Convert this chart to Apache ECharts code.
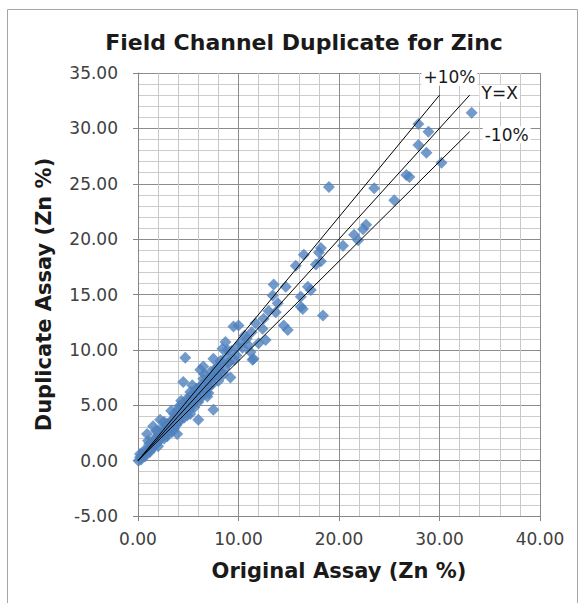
<!DOCTYPE html>
<html><head><meta charset="utf-8">
<script src="https://cdn.jsdelivr.net/npm/echarts@6/dist/echarts.min.js"></script>
<style>html,body{margin:0;padding:0;background:#fff}#c{width:585px;height:603px}</style>
</head><body><div id="c"></div>
<script>
// Scatter data: original assay (x) and duplicate assay (y), Zn %
const originalAssay = [
 33.2,27.9,28.9,27.9,28.7,30.2,26.7,27.0,19.0,23.5,25.5,22.7,22.4,21.5,21.9,20.4,18.2,18.0,16.5,18.2,17.7,15.7,16.9,17.2,16.2,16.4,18.4,16.2,
 13.5,14.7,13.4,13.9,13.7,14.9,14.5,10.0,9.5,11.7,12.4,12.7,12.0,11.5,11.2,8.7,8.4,8.9,7.5,6.5,9.2,10.2,11.4,12.5,13.0,10.8,9.8,9.0,8.0,8.5,
 4.7,7.5,6.0,4.5,5.4,6.2,6.5,5.9,6.9,7.0,7.6,5.0,4.0,4.5,3.5,3.2,3.9,2.2,1.5,0.9,2.2,1.5,0.2,0.05,0.5,1.0,1.8,2.5,2.8,3.0,3.6,4.2,4.8,5.5,5.2,6.3,6.8,7.2,8.0,2.6,1.2,0.7,3.3,4.3,2.0,5.8,6.6,7.8,8.2,4.6,5.6,3.8,2.9,1.7,0.3,
 0.4,0.6,0.8,1.1,1.3,1.6,1.9,2.1,2.3,2.4,2.7,2.9,3.1,3.3,3.4,3.7,3.8,4.0,4.1,4.3,4.4,4.7,4.9,5.1,5.3,5.4,5.7,5.8,6.0,6.1,
 6.4,6.7,6.9,7.1,7.3,7.4,7.7,7.9,8.1,8.3,8.6,8.8,9.1,9.3,9.6,9.9,10.4,10.6,11.0,11.3,1.0,1.8,2.6,0.2,3.6,4.9,6.2,7.0,2.0,5.2
];
const duplicateAssay = [
 31.4,30.4,29.7,28.5,27.8,26.9,25.8,25.6,24.7,24.6,23.5,21.3,20.9,20.4,19.9,19.4,19.2,18.8,18.6,18.0,17.7,17.6,15.7,15.4,14.8,13.7,13.1,13.9,
 15.9,15.7,14.9,14.2,13.4,11.8,12.2,12.2,12.1,12.4,11.9,10.9,10.6,9.2,9.8,10.7,10.1,10.0,9.2,8.5,7.5,10.6,9.1,12.8,13.5,11.0,9.5,8.8,8.5,7.8,
 9.3,4.6,3.7,7.1,6.8,8.2,7.4,5.8,5.8,7.0,7.6,5.5,4.6,4.3,3.7,2.8,2.4,3.7,3.1,2.4,1.9,1.2,0.3,0.0,0.6,1.1,2.0,2.6,3.2,2.5,4.2,3.6,5.0,5.2,6.2,6.8,6.2,8.0,7.2,2.0,0.8,0.4,4.5,5.4,2.6,6.5,7.8,8.4,9.0,3.9,4.8,3.2,2.2,1.4,0.1,
 0.5,0.9,0.6,1.5,1.0,1.9,1.6,2.4,2.1,2.9,2.4,3.3,3.0,3.6,2.6,3.4,4.1,3.5,4.9,4.0,5.1,4.4,5.6,4.6,5.9,5.0,5.5,6.1,5.3,6.6,
 6.0,6.5,7.3,6.7,7.6,6.9,8.2,7.7,8.0,8.8,8.3,9.4,8.9,9.9,9.1,10.3,10.2,11.3,10.4,11.6,1.8,2.7,3.5,0.6,2.9,4.1,5.6,6.1,1.3,4.2
];
// Reference lines: [x, y] start and end
const linePlus10 = [[0, 0], [30, 33]];
const lineYX = [[0, 0], [33, 33]];
const lineMinus10 = [[0, 0], [33, 29.7]];
const lineLabels = ['+10%', 'Y=X', '-10%'];
const xTicks = [0, 10, 20, 30, 40];
const yTicks = [-5, 0, 5, 10, 15, 20, 25, 30, 35];

const FONT = '"DejaVu Sans", Verdana, sans-serif';
const chart = echarts.init(document.getElementById('c'), null, {renderer: 'svg'});
const pts = originalAssay.map((x, i) => [x, duplicateAssay[i]]);
const lineStyle = {color: '#000', width: 1};
const option = {
  animation: false,
  backgroundColor: '#fff',
  title: {
    text: 'Field Channel Duplicate for Zinc',
    left: 299, textAlign: 'center', top: 26,
    textStyle: {fontFamily: FONT, fontSize: 22, fontWeight: 'bold', color: '#1a1a1a'}
  },
  grid: {left: 138, right: 45, top: 73, bottom: 87},
  xAxis: {
    type: 'value', min: xTicks[0], max: xTicks[xTicks.length - 1], interval: 10,
    name: 'Original Assay (Zn %)', nameLocation: 'middle', nameGap: 44,
    nameTextStyle: {fontFamily: FONT, fontSize: 21, fontWeight: 'bold', color: '#1a1a1a'},
    axisLine: {show: true, onZero: false, lineStyle: {color: '#868686'}},
    axisTick: {show: true, length: 5, lineStyle: {color: '#868686'}},
    axisLabel: {fontFamily: FONT, fontSize: 17, color: '#404040', margin: 14, formatter: v => v.toFixed(2)},
    splitLine: {show: true, lineStyle: {color: '#8c8c8c', width: 1}},
    minorTick: {show: false, splitNumber: 5},
    minorSplitLine: {show: true, lineStyle: {color: '#c8c8c8', width: 1}}
  },
  yAxis: {
    type: 'value', min: yTicks[0], max: yTicks[yTicks.length - 1], interval: 5,
    name: 'Duplicate Assay (Zn %)', nameLocation: 'middle', nameGap: 84,
    nameTextStyle: {fontFamily: FONT, fontSize: 21, fontWeight: 'bold', color: '#1a1a1a'},
    axisLine: {show: true, onZero: false, lineStyle: {color: '#868686'}},
    axisTick: {show: true, length: 5, lineStyle: {color: '#868686'}},
    axisLabel: {fontFamily: FONT, fontSize: 17, color: '#404040', margin: 20, formatter: v => v.toFixed(2)},
    splitLine: {show: true, lineStyle: {color: '#8c8c8c', width: 1}},
    minorTick: {show: false, splitNumber: 5},
    minorSplitLine: {show: true, lineStyle: {color: '#cccccc', width: 1}}
  },
  series: [
    {type: 'scatter', name: 'Duplicates', data: pts, symbol: 'diamond', symbolSize: 12,
     itemStyle: {color: '#4f81bd'}, z: 2},
    {type: 'line', name: lineLabels[0], data: linePlus10, symbol: 'none', lineStyle, z: 3},
    {type: 'line', name: lineLabels[1], data: lineYX, symbol: 'none', lineStyle, z: 3},
    {type: 'line', name: lineLabels[2], data: lineMinus10, symbol: 'none', lineStyle, z: 3}
  ]
};
chart.setOption(option);

// Line labels, placed relative to the end of each line
const ends = [linePlus10[1], lineYX[1], lineMinus10[1]];
const offs = [[10, -18], [30, -2], [37, 3]];
const g = ends.map((e, i) => {
  const p = chart.convertToPixel({gridIndex: 0}, e);
  return {
    type: 'text', x: p[0] + offs[i][0], y: p[1] + offs[i][1], z: 10,
    style: {text: lineLabels[i], fill: '#1a1a1a', font: '17px ' + FONT,
            align: 'center', verticalAlign: 'middle',
            backgroundColor: '#fff', padding: [0, 2]}
  };
});
g.push({type: 'rect', shape: {x: 7.5, y: 9.5, width: 570, height: 600}, z: -1,
        style: {fill: 'none', stroke: '#a6a6a6', lineWidth: 1}, silent: true});
chart.setOption({graphic: g});
</script></body></html>
